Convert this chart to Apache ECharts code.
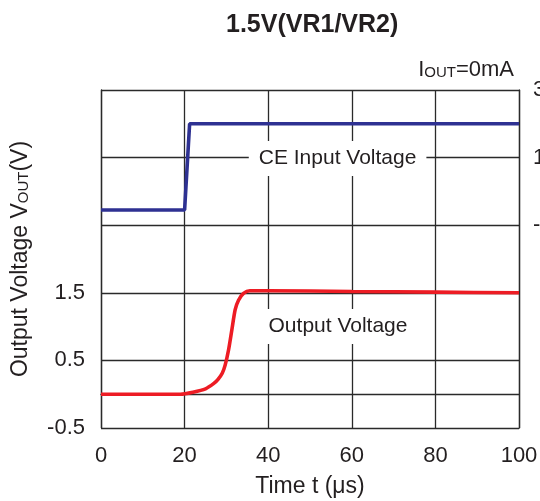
<!DOCTYPE html>
<html>
<head>
<meta charset="utf-8">
<script src="https://cdn.jsdelivr.net/npm/echarts@6/dist/echarts.min.js"></script>
<style>html,body{margin:0;padding:0;background:#fff}#c{width:540px;height:501px}</style>
</head>
<body>
<div id="c"></div>
<script>
// Time axis ticks (µs)
const xTicks = [0, 20, 40, 60, 80, 100];
// Left axis (Output Voltage) labels
const leftLabels = [-0.5, 0.5, 1.5];
// Right axis (CE Input Voltage) labels
const rightLabels = [3, 1, -1];

// CE input voltage step (right axis)
const tCE = [0, 20, 21.2, 100];
const vCE = [-0.55, -0.55, 2.0, 2.0];

// Output voltage (left axis)
const tOut = [0, 19, 22, 25, 27, 28, 29, 29.7, 30.5, 31.3, 32.1, 32.9, 34.1, 35.6, 40, 60, 80, 100];
const vOut = [0, 0, 0.03, 0.08, 0.16, 0.22, 0.31, 0.43, 0.65, 0.95, 1.25, 1.39, 1.49, 1.53, 1.53, 1.52, 1.51, 1.50];

const FONT = '"Liberation Sans", Arial, sans-serif';
const TXT = '#231f20';
const GRIDC = '#2a2a2a';

const chart = echarts.init(document.getElementById('c'), null, {renderer: 'canvas'});
chart.setOption({
  animation: false,
  backgroundColor: '#fff',
  textStyle: {fontFamily: FONT},
  title: [
    {text: '1.5V(VR1/VR2)', left: 221, top: 8,
     textStyle: {fontFamily: FONT, fontSize: 25, fontWeight: 'bold', color: TXT}},
    {text: '{a|I}{b|OUT}{a|=0mA}', right: 21, top: 54,
     textStyle: {fontWeight: 'normal', rich: {
       a: {fontFamily: FONT, fontSize: 22, fontWeight: 'normal', color: TXT, verticalAlign: 'bottom'},
       b: {fontFamily: FONT, fontSize: 15, fontWeight: 'normal', color: TXT, verticalAlign: 'bottom', padding: [0, 0, 1, 0]}
     }}}
  ],
  grid: {left: 101, right: 21, top: 90, bottom: 73, containLabel: false, outerBoundsMode: 'none'},
  xAxis: {
    type: 'value', min: 0, max: 100, interval: 20,
    name: 'Time t (\u03bcs)', nameLocation: 'middle', nameGap: 47,
    nameTextStyle: {fontFamily: FONT, fontSize: 23, color: TXT},
    axisLine: {show: true, lineStyle: {color: GRIDC, width: 1.3}},
    axisTick: {show: false},
    axisLabel: {customValues: xTicks, fontFamily: FONT, fontSize: 22, color: TXT, margin: 17},
    splitLine: {show: true, lineStyle: {color: GRIDC, width: 1.3}}
  },
  yAxis: [
    {
      type: 'value', min: -0.5, max: 4.5, position: 'left',
      name: '{n|Output Voltage V}{s|OUT}{n|(V)}', nameLocation: 'middle', nameGap: 69,
      nameTextStyle: {rich: {
        n: {fontFamily: FONT, fontSize: 23, color: TXT, verticalAlign: 'bottom'},
        s: {fontFamily: FONT, fontSize: 15, color: TXT, verticalAlign: 'bottom', padding: [0, 0, 1, 0]}
      }},
      axisLine: {show: true, lineStyle: {color: GRIDC, width: 1.3}},
      axisTick: {show: false},
      axisLabel: {customValues: leftLabels, fontFamily: FONT, fontSize: 22, color: TXT, margin: 16,
                  formatter: v => String(v)},
      splitLine: {show: false}
    },
    {
      type: 'value', min: -7, max: 3, position: 'right',
      axisLine: {show: true, lineStyle: {color: GRIDC, width: 1.3}},
      axisTick: {show: false},
      axisLabel: {customValues: rightLabels, fontFamily: FONT, fontSize: 22, color: TXT, margin: 14},
      splitLine: {show: false}
    },
    {
      type: 'value', min: 0, max: 5, interval: 1, position: 'left', show: true,
      axisLine: {show: false}, axisTick: {show: false}, axisLabel: {show: false},
      splitLine: {show: true, lineStyle: {color: GRIDC, width: 1.3}}
    }
  ],
  series: [
    {
      type: 'line', yAxisIndex: 1, showSymbol: false, symbol: 'none',
      data: tCE.map((t, i) => [t, vCE[i]]),
      lineStyle: {color: '#2e3192', width: 3.6},
      markPoint: {
        symbol: 'rect', symbolSize: 1, itemStyle: {color: 'rgba(0,0,0,0)'},
        label: {show: true, position: 'inside', formatter: 'CE Input Voltage',
                backgroundColor: '#fff', padding: [7, 10], fontFamily: FONT, fontSize: 21, color: TXT},
        data: [{coord: [56.6, 0.97]}]
      }
    },
    {
      type: 'line', yAxisIndex: 0, showSymbol: false, symbol: 'none', smooth: 0.25,
      data: tOut.map((t, i) => [t, vOut[i]]),
      lineStyle: {color: '#ed1c24', width: 3.6},
      markPoint: {
        symbol: 'rect', symbolSize: 1, itemStyle: {color: 'rgba(0,0,0,0)'},
        label: {show: true, position: 'inside', formatter: 'Output Voltage',
                backgroundColor: '#fff', padding: [7, 10], fontFamily: FONT, fontSize: 21, color: TXT},
        data: [{coord: [56.7, 1.0]}]
      }
    }
  ]
});
</script>
</body>
</html>
